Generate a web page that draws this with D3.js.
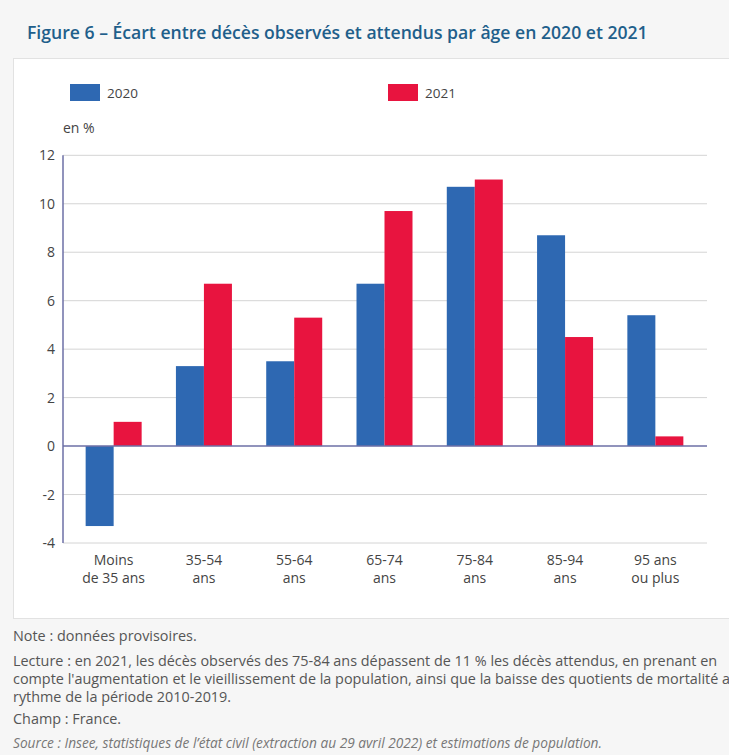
<!DOCTYPE html>
<html><head><meta charset="utf-8">
<script src="https://cdn.jsdelivr.net/npm/d3@7"></script>
<style>
body{margin:0;background:#f6f6f6;}
svg{display:block;font-family:"Open Sans",sans-serif;}
</style></head>
<body>
<svg id="c" width="729" height="755"></svg>
<script>
const categories = [["Moins","de 35 ans"],["35-54","ans"],["55-64","ans"],["65-74","ans"],["75-84","ans"],["85-94","ans"],["95 ans","ou plus"]];
const series = ["2020","2021"];
const values2020 = [-3.3, 3.3, 3.5, 6.7, 10.7, 8.7, 5.4];
const values2021 = [1.0, 6.7, 5.3, 9.7, 11.0, 4.5, 0.4];
const yTicks = [-4,-2,0,2,4,6,8,10,12];
const colors = ["#2e68b2","#e8143f"];
const title = "Figure 6 – Écart entre décès observés et attendus par âge en 2020 et 2021";
const notes = [
 {t:"Note : données provisoires.", y:641},
 {t:"Lecture : en 2021, les décès observés des 75-84 ans dépassent de 11 % les décès attendus, en prenant en", y:666},
 {t:"compte l'augmentation et le vieillissement de la population, ainsi que la baisse des quotients de mortalité au", y:684},
 {t:"rythme de la période 2010-2019.", y:702},
 {t:"Champ : France.", y:724},
];
const source = "Source : Insee, statistiques de l’état civil (extraction au 29 avril 2022) et estimations de population.";

const svg = d3.select("#c");
svg.append("rect").attr("width",729).attr("height",755).attr("fill","#f6f6f6");
// panel
svg.append("rect").attr("x",13.5).attr("y",58.5).attr("width",730).attr("height",560)
  .attr("fill","#ffffff").attr("stroke","#e2e2e2");

svg.append("text").attr("x",27).attr("y",39).text(title)
  .attr("font-size",17.6).attr("font-weight",600).attr("fill","#1f5f8b");

const y = d3.scaleLinear().domain([-4,12]).range([543,155.3]);
const x = d3.scaleBand().domain(d3.range(categories.length)).range([68.5,700.5]).paddingInner(0).paddingOuter(0);
const xs = d3.scaleBand().domain(series).range([0,56]);
const left = 63, right = 707;

const g = svg.append("g");
// grid
g.selectAll("line.grid").data(yTicks.filter(d=>d!==0)).join("line")
  .attr("x1",left).attr("x2",right).attr("y1",d=>y(d)).attr("y2",d=>y(d))
  .attr("stroke","#d4d4d4").attr("stroke-width",1);

// y axis labels
const yAxis = d3.axisLeft(y).tickValues(yTicks).tickSize(0).tickPadding(8).tickFormat(d=>String(d));
const ya = svg.append("g").attr("transform",`translate(${left},0)`).call(yAxis);
ya.select(".domain").remove();
ya.selectAll("text").attr("font-size",14).attr("fill","#444").attr("font-family","Open Sans");

// bars
const data = [];
categories.forEach((c,i)=>{
  data.push({i,s:"2020",v:values2020[i],c:colors[0]});
  data.push({i,s:"2021",v:values2021[i],c:colors[1]});
});
g.selectAll("rect.bar").data(data).join("rect")
  .attr("x",d=>x(d.i)+x.bandwidth()/2-28+xs(d.s))
  .attr("width",xs.bandwidth())
  .attr("y",d=>y(Math.max(0,d.v)))
  .attr("height",d=>Math.abs(y(d.v)-y(0)))
  .attr("fill",d=>d.c);

// axes lines
g.append("line").attr("x1",left).attr("x2",left).attr("y1",y(12)).attr("y2",y(-4)).attr("stroke","#6c6fa6").attr("stroke-width",1.5);
g.append("line").attr("x1",left).attr("x2",right).attr("y1",y(0)).attr("y2",y(0)).attr("stroke","#6c6fa6").attr("stroke-width",1.5);

// x labels
const xl = svg.append("g").selectAll("text").data(categories).join("text")
  .attr("x",(d,i)=>x(i)+x.bandwidth()/2).attr("y",565)
  .attr("text-anchor","middle").attr("font-size",14).attr("fill","#444");
xl.append("tspan").attr("x",(d,i)=>x(i)+x.bandwidth()/2).attr("dy",0).text(d=>d[0]);
xl.append("tspan").attr("x",(d,i)=>x(i)+x.bandwidth()/2).attr("dy",18).text(d=>d[1]);

// unit label
svg.append("text").attr("x",63).attr("y",133).text("en %").attr("font-size",14).attr("fill","#444");

// legend
const legX = [70,388];
series.forEach((s,i)=>{
  svg.append("rect").attr("x",legX[i]).attr("y",84).attr("width",30).attr("height",17).attr("fill",colors[i]);
  svg.append("text").attr("x",legX[i]+37).attr("y",98).text(s).attr("font-size",13.5).attr("fill","#444");
});

// notes
notes.forEach(n=>{
  svg.append("text").attr("x",13).attr("y",n.y).text(n.t).attr("font-size",14.4).attr("fill","#555");
});
svg.append("text").attr("x",13).attr("y",748).text(source).attr("font-size",13.7).attr("font-style","italic").attr("fill","#777");
</script>
</body></html>
